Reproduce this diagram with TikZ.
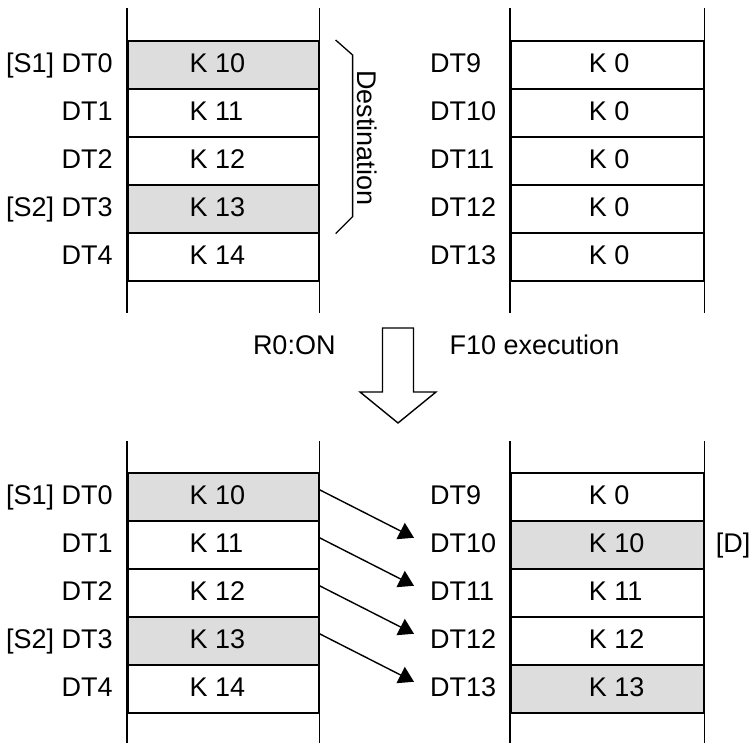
\documentclass[tikz,border=0pt]{standalone}
\usepackage{fontspec}
\setmainfont{Liberation Sans}
\usetikzlibrary{arrows.meta,calc}
\definecolor{cellgray}{RGB}{220,221,220}
\begin{document}
\begin{tikzpicture}[x=1pt,y=-1pt,
  every node/.style={font=\fontsize{27}{32}\selectfont},
  cell/.style={draw=black, line width=1.6pt, minimum height=48pt, inner sep=0pt, anchor=north west},
  lcell/.style={cell, minimum width=191pt},
  rcell/.style={cell, minimum width=193pt},
  hl/.style={fill=cellgray},
  plain/.style={},
  txt/.style={anchor=base west, inner sep=0pt},
  rtxt/.style={anchor=base east, inner sep=0pt},
  rail/.style={line width=1.6pt},
  mv/.style={line width=1.4pt, -{Triangle[length=15pt,width=18pt]}}]
\useasboundingbox (0,0) rectangle (750,743);

% ---------- top left table ----------
\foreach \i/\v/\f/\l in {0/10/hl/{[S1] DT0},1/11/plain/DT1,2/12/plain/DT2,3/13/hl/{[S2] DT3},4/14/plain/DT4}{
  \node[lcell,\f] (tl\i) at (127,{40+48*\i}) {};
  \node[txt] (tlv\i) at ($(tl\i.west)+(62.5,8)$) {K \v};
  \node[rtxt] (tll\i) at ($(tl\i.west)+(-14.2,8)$) {\l};
}
% ---------- top right table ----------
\foreach \i/\l in {0/DT9,1/DT10,2/DT11,3/DT12,4/DT13}{
  \node[rcell,plain] (tr\i) at (510,{40+48*\i}) {};
  \node[txt] (trv\i) at ($(tr\i.west)+(78.7,8)$) {K 0};
  \node[txt] (trl\i) at ($(tr\i.west)+(-80,8)$) {\l};
}
% ---------- bottom left table ----------
\foreach \i/\v/\f/\l in {0/10/hl/{[S1] DT0},1/11/plain/DT1,2/12/plain/DT2,3/13/hl/{[S2] DT3},4/14/plain/DT4}{
  \node[lcell,\f] (bl\i) at (127,{472+48*\i}) {};
  \node[txt] (blv\i) at ($(bl\i.west)+(62.5,8)$) {K \v};
  \node[rtxt] (bll\i) at ($(bl\i.west)+(-14.2,8)$) {\l};
}
% ---------- bottom right table ----------
\foreach \i/\v/\f/\l in {0/0/plain/DT9,1/10/hl/DT10,2/11/plain/DT11,3/12/plain/DT12,4/13/hl/DT13}{
  \node[rcell,\f] (br\i) at (510,{472+48*\i}) {};
  \node[txt] (brv\i) at ($(br\i.west)+(78.7,8)$) {K \v};
  \node[txt] (brl\i) at ($(br\i.west)+(-80,8)$) {\l};
}

% ---------- rails ----------
\foreach \t in {tl,tr}{
  \draw[rail] ($(\t0.north west)+(0,-32)$) -- ($(\t4.south west)+(0,31)$);
  \draw[rail] ($(\t0.north east)+(0,-32)$) -- ($(\t4.south east)+(0,31)$);
}
\foreach \t in {bl,br}{
  \draw[rail] ($(\t0.north west)+(0,-31)$) -- ($(\t4.south west)+(0,32)$);
  \draw[rail] ($(\t0.north east)+(0,-31)$) -- ($(\t4.south east)+(0,32)$);
}

% ---------- destination bracket ----------
\coordinate (b1) at ($(tl0.north east)+(16,0)$);
\coordinate (b2) at ($(tl0.north east)+(33,15)$);
\coordinate (b3) at ($(tl3.south east)+(33,-17)$);
\coordinate (b4) at ($(tl3.south east)+(16,0)$);
\draw[line width=1.3pt] (b1) -- (b2) -- (b3) -- (b4);
\node[rotate=-90, inner sep=0pt] (dest) at (367.5,138) {Destination};

% ---------- hollow arrow ----------
\draw[line width=1.4pt, line join=miter] (382.5,328) -- (413.5,328) -- (413.5,392) -- (436,392)
  -- (398,423) -- (360,392) -- (382.5,392) -- cycle;
\node[txt] (r0) at (252.8,355) {R0:ON};
\node[txt] (f10) at (449.5,355) {F10 execution};

% ---------- move arrows ----------
\foreach \i/\j in {0/1,1/2,2/3,3/4}{
  \draw[mv] ($(bl\i.east)+(0,-7)$) -- ($(br\j.west)+(-96,-7)$);
}
\node[txt] (dlab) at ($(br1.east)+(11,8)$) {[D]};
\end{tikzpicture}
\end{document}
